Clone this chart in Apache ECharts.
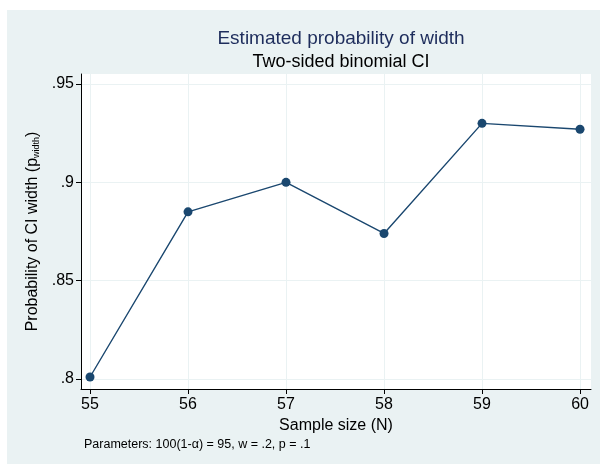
<!DOCTYPE html>
<html>
<head>
<meta charset="utf-8">
<script src="https://cdn.jsdelivr.net/npm/echarts@6/dist/echarts.min.js"></script>
<style>html,body{margin:0;padding:0;background:#fff;}#c{width:600px;height:464px;}</style>
</head>
<body>
<div id="c"></div>
<script>
var sampleSizes = [55, 56, 57, 58, 59, 60];
var probWidth = [0.801, 0.885, 0.900, 0.874, 0.930, 0.927];
var yTicks = [0.8, 0.85, 0.9, 0.95];
var yTickLabels = ['.8', '.85', '.9', '.95'];
var titleText = 'Estimated probability of width';
var subtitleText = 'Two-sided binomial CI';
var noteText = 'Parameters: 100(1-\u03B1) = 95, w = .2, p = .1';

var FONT = '"Liberation Sans", Arial, sans-serif';
var chart = echarts.init(document.getElementById('c'), null, {renderer: 'canvas'});
var data = sampleSizes.map(function (x, i) { return [x, probWidth[i]]; });

chart.setOption({
  backgroundColor: '#ffffff',
  animation: false,
  graphic: [
    {type: 'rect', z: -10, shape: {x: 7, y: 10, width: 593, height: 454}, style: {fill: '#EAF2F3'}},
    {type: 'rect', z: -9, shape: {x: 81, y: 74, width: 510, height: 315}, style: {fill: '#ffffff'}},
    {type: 'text', left: 84, top: 438, style: {text: noteText, font: '12.5px ' + FONT, fill: '#000'}}
  ],
  title: [
    {text: titleText, left: 336, textAlign: 'center', top: 24, textStyle: {fontFamily: FONT, fontSize: 19, fontWeight: 'normal', color: '#1E2D5C'}},
    {text: subtitleText, left: 336, textAlign: 'center', top: 48, textStyle: {fontFamily: FONT, fontSize: 18, fontWeight: 'normal', color: '#000'}}
  ],
  grid: {left: 81, right: 9, top: 74, bottom: 75, containLabel: false},
  xAxis: {
    type: 'value',
    min: 54.908, max: 60.112,
    name: 'Sample size (N)',
    nameLocation: 'middle',
    nameGap: 26,
    nameTextStyle: {fontFamily: FONT, fontSize: 16, color: '#000', verticalAlign: 'top'},
    axisLine: {show: true, onZero: false, lineStyle: {color: '#000', width: 1}},
    axisTick: {show: true, length: 5, customValues: sampleSizes, lineStyle: {color: '#000'}},
    axisLabel: {customValues: sampleSizes, margin: 8, fontFamily: FONT, fontSize: 16, color: '#000',
      formatter: function (v) { return String(Math.round(v)); }},
    splitLine: {show: true, lineStyle: {color: '#EAF2F3', width: 1}}
  },
  yAxis: {
    type: 'value',
    min: 0.7949, max: 0.9551,
    name: 'Probability of CI width (p{s|width})',
    nameLocation: 'middle',
    nameGap: 35,
    nameRotate: 90,
    nameTextStyle: {fontFamily: FONT, fontSize: 16, color: '#000',
      rich: {s: {fontFamily: FONT, fontSize: 9, color: '#000', verticalAlign: 'bottom', padding: [7, 0, 0, 0]}}},
    axisLine: {show: true, onZero: false, lineStyle: {color: '#000', width: 1}},
    axisTick: {show: true, length: 5, customValues: yTicks, lineStyle: {color: '#000'}},
    axisLabel: {customValues: yTicks, margin: 7, fontFamily: FONT, fontSize: 16, color: '#000',
      formatter: function (v) {
        for (var i = 0; i < yTicks.length; i++) { if (Math.abs(yTicks[i] - v) < 1e-6) return yTickLabels[i]; }
        return '';
      }},
    splitLine: {show: true, lineStyle: {color: '#EAF2F3', width: 1}}
  },
  series: [{
    type: 'line',
    data: data,
    symbol: 'circle',
    symbolSize: 9,
    lineStyle: {color: '#1A476F', width: 1.4},
    itemStyle: {color: '#1A476F'}
  }]
});
</script>
</body>
</html>
